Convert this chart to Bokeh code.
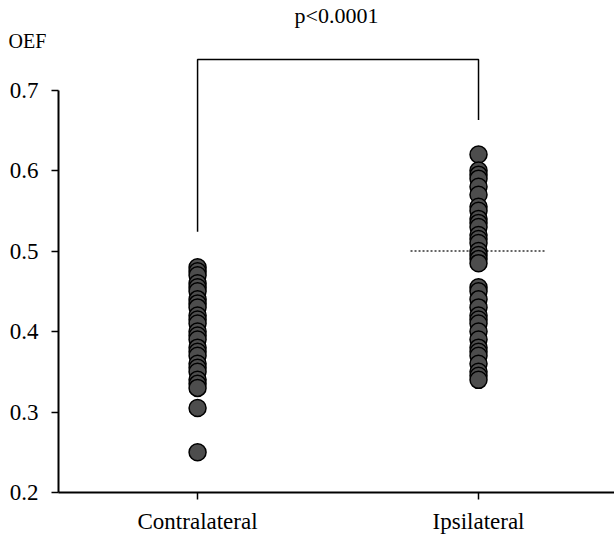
from bokeh.plotting import figure
from bokeh.models import FixedTicker, Range1d, Title
from bokeh.embed import file_html
from bokeh.resources import INLINE

categories = ["Contralateral", "Ipsilateral"]
contra_oef = [0.48, 0.475, 0.47, 0.46, 0.455, 0.45, 0.44, 0.435, 0.43, 0.42, 0.415, 0.41,
              0.40, 0.395, 0.39, 0.38, 0.375, 0.37, 0.36, 0.355, 0.35, 0.34, 0.335, 0.33,
              0.305, 0.25]
ipsi_oef = [0.62, 0.60, 0.595, 0.59, 0.58, 0.57, 0.555, 0.55, 0.54, 0.535, 0.53, 0.52,
            0.515, 0.51, 0.50, 0.495, 0.49, 0.485, 0.455, 0.45, 0.44, 0.43, 0.42, 0.415,
            0.41, 0.40, 0.39, 0.38, 0.375, 0.37, 0.36, 0.35, 0.345, 0.34]
ipsi_mean = 0.50
y_ticks = [0.2, 0.3, 0.4, 0.5, 0.6, 0.7]
p_text = "p<0.0001"
y_title = "OEF"
bracket_top = 0.738
bracket_left_end = 0.524
bracket_right_end = 0.663

FONT = "Liberation Serif"

p = figure(width=614, height=538, output_backend="svg", toolbar_location=None,
           x_range=Range1d(0.505, 2.484), y_range=Range1d(0.2, 0.748),
           min_border_left=58, min_border_right=0, min_border_top=0, min_border_bottom=46)
p.outline_line_color = None
p.grid.grid_line_color = None
p.background_fill_color = "white"
p.border_fill_color = "white"

# axes
p.xaxis.ticker = FixedTicker(ticks=[1, 2])
p.xaxis.major_label_overrides = {1: categories[0], 2: categories[1]}
p.yaxis.ticker = FixedTicker(ticks=y_ticks)
p.yaxis.bounds = (0.2, 0.7)
for ax in (p.xaxis[0], p.yaxis[0]):
    ax.axis_line_color = "black"
    ax.axis_line_width = 2
    ax.major_tick_line_color = "black"
    ax.major_tick_line_width = 1.5
    ax.major_tick_in = 0
    ax.major_tick_out = 7
    ax.minor_tick_line_color = None
    ax.major_label_text_font = FONT
    ax.major_label_text_font_size = "23px"
    ax.major_label_text_color = "black"
p.yaxis.major_label_standoff = 13
p.xaxis.major_label_standoff = 9

# mean line
p.segment(x0=[2 - 0.242], y0=[ipsi_mean], x1=[2 + 0.238], y1=[ipsi_mean],
          line_color="#333333", line_width=1.5, line_dash="2 2")

# points
p.scatter([1] * len(contra_oef), contra_oef, size=17, fill_color="#4d4d4d",
          line_color="black", line_width=1.5)
p.scatter([2] * len(ipsi_oef), ipsi_oef, size=17, fill_color="#4d4d4d",
          line_color="black", line_width=1.5)

# significance bracket
p.line([1, 1, 2, 2], [bracket_left_end, bracket_top, bracket_top, bracket_right_end],
       line_color="black", line_width=1.5)

p.add_layout(Title(text=y_title, align="left", offset=-50, standoff=0,
                   text_font=FONT, text_font_size="20px", text_font_style="normal",
                   text_color="black"), "above")
p.add_layout(Title(text=p_text, align="center", offset=-13, standoff=0,
                   text_font=FONT, text_font_size="22px", text_font_style="normal",
                   text_color="black"), "above")

open("out.html", "w").write(file_html(p, INLINE))
